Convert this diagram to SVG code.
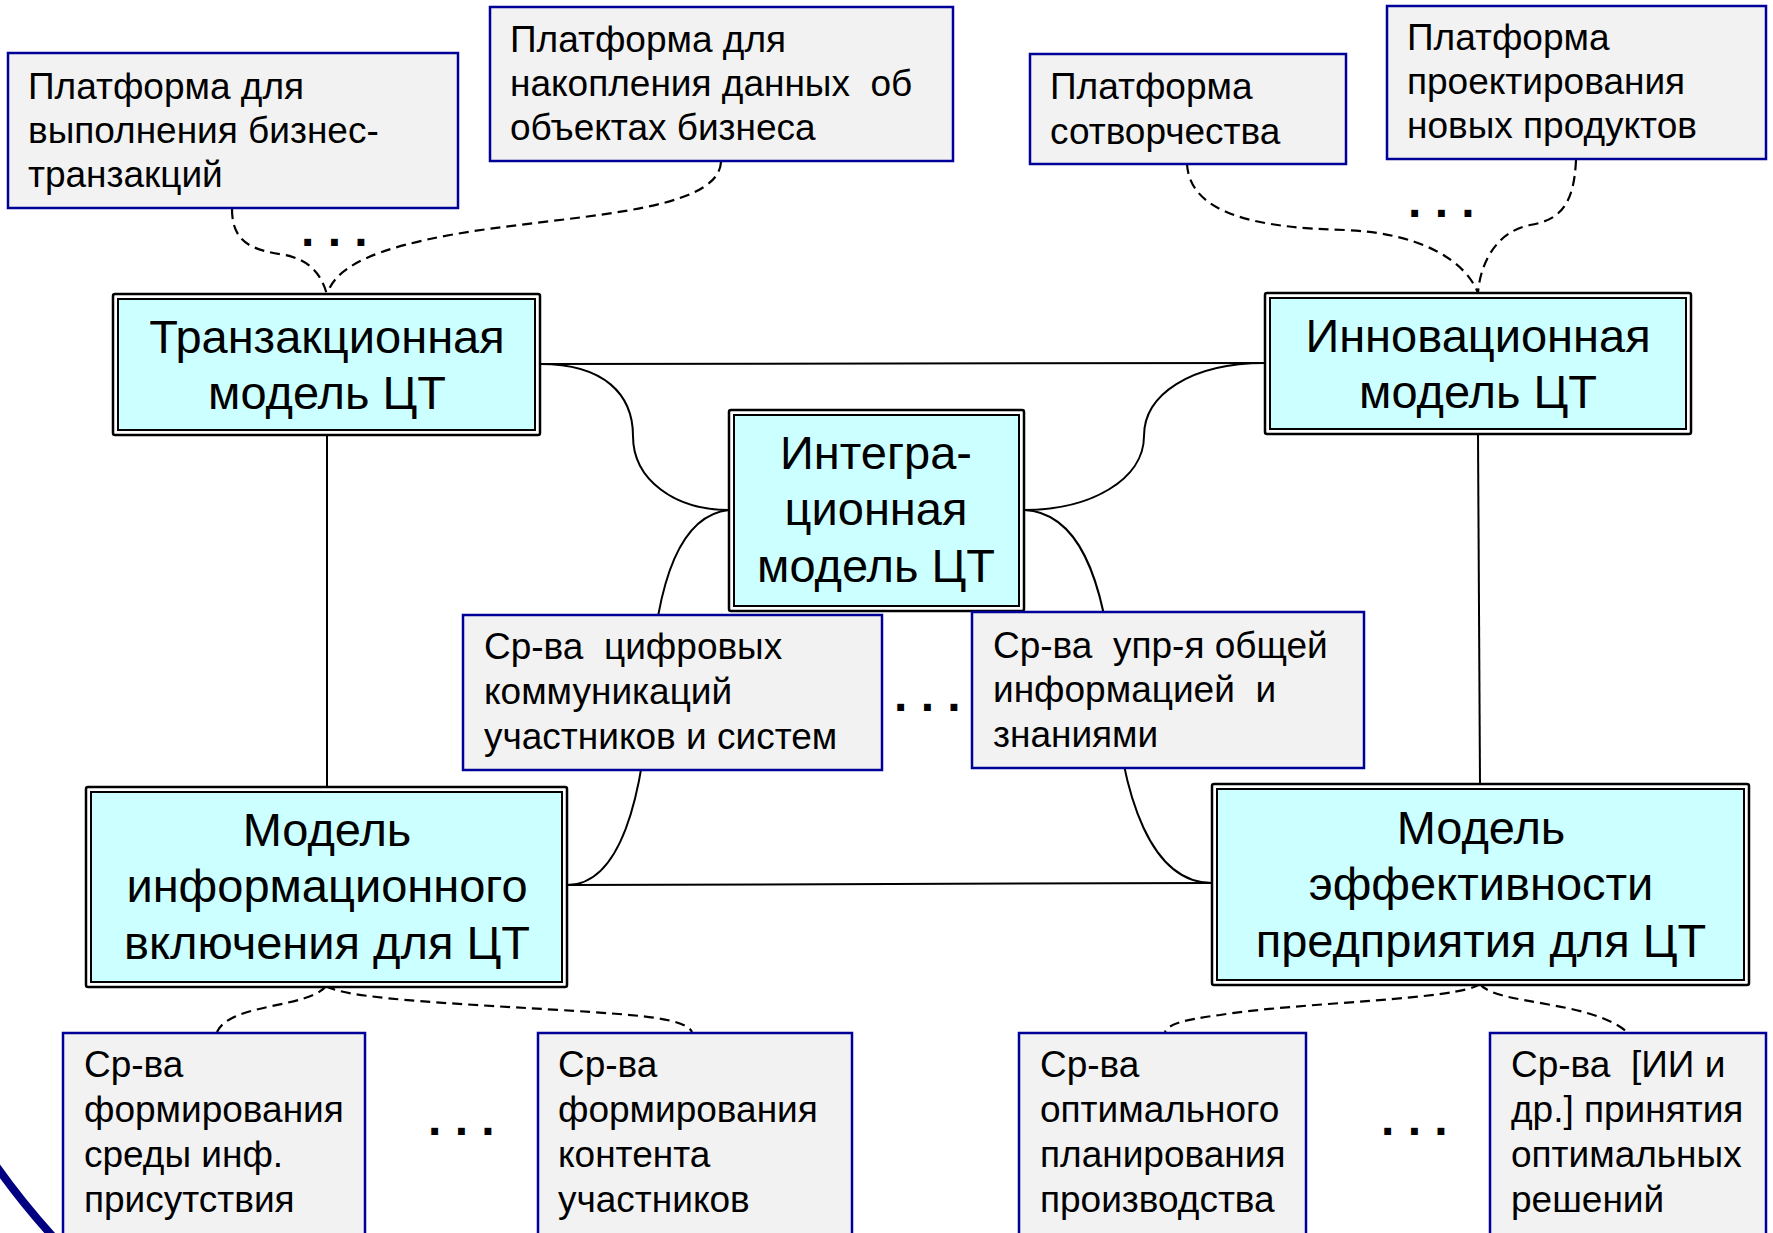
<svg xmlns="http://www.w3.org/2000/svg" width="1773" height="1233" viewBox="0 0 1773 1233">
<style>
text{white-space:pre}
.g rect{fill:#F2F2F2;stroke:#000099;stroke-width:2.5}
.g text{font-family:"Liberation Sans",Arial,sans-serif;font-size:37px;fill:#000}
.m .o{fill:#fff;stroke:#000;stroke-width:2.5}
.m .i{fill:#CCFFFF;stroke:#000;stroke-width:2}
.m text{font-family:"Liberation Sans",Arial,sans-serif;font-size:47px;fill:#000;text-anchor:middle}
.c path{fill:none;stroke:#000;stroke-width:2}
.c path.d{stroke-width:2.2;stroke-dasharray:10 6}
.dots{font-family:"Liberation Sans",Arial,sans-serif;font-size:48px;font-weight:bold;fill:#000}
</style>
<rect width="1773" height="1233" fill="#fff"/>
<path d="M-6,1163 Q22,1203 56,1240" fill="none" stroke="#000080" stroke-width="8"/>
<g id="connectors" class="c">
<path d="M540,364 L1265,363"/>
<path d="M540,364 C605,364 633,395 633,436 C633,480 675,510 729,510"/>
<path d="M1265,363 C1190,363 1144,395 1144,436 C1144,480 1090,510 1024,510"/>
<path d="M729,510 C680,515 656,580 650,690 C643,800 620,885 567,885"/>
<path d="M1024,510 C1075,512 1105,570 1114,690 C1122,800 1152,883 1212,883"/>
<path d="M567,885 L1212,883"/>
<path d="M327,435 L327,787"/>
<path d="M1478,434 L1480,784"/>
<path class="d" d="M232,209 C232,245 255,250 285,255 C310,260 322,275 327,295"/>
<path class="d" d="M721,162 C718,215 560,215 450,235 C380,248 335,265 327,295"/>
<path class="d" d="M1187,164 C1190,215 1260,228 1345,230 C1420,233 1465,260 1478,293"/>
<path class="d" d="M1576,160 C1574,205 1560,220 1530,225 C1495,232 1480,265 1478,293"/>
<path class="d" d="M326,986 C310,1008 230,1003 217,1032"/>
<path class="d" d="M326,986 C345,998 440,1003 560,1010 C640,1015 685,1018 692,1032"/>
<path class="d" d="M1480,984 C1460,1000 1300,1002 1220,1015 C1180,1020 1168,1025 1165,1032"/>
<path class="d" d="M1480,984 C1495,1005 1590,1000 1627,1032"/>
</g>
<g id="p1" class="g"><rect x="8" y="53" width="450" height="155"/><text x="28" y="99">Платформа для</text><text x="28" y="143">выполнения бизнес-</text><text x="28" y="187">транзакций</text></g>
<g id="p2" class="g"><rect x="490" y="7" width="463" height="154"/><text x="510" y="52">Платформа для</text><text x="510" y="96">накопления данных  об</text><text x="510" y="140">объектах бизнеса</text></g>
<g id="p3" class="g"><rect x="1030" y="54" width="316" height="110"/><text x="1050" y="99">Платформа</text><text x="1050" y="144">сотворчества</text></g>
<g id="p4" class="g"><rect x="1387" y="6" width="379" height="153"/><text x="1407" y="50">Платформа</text><text x="1407" y="94">проектирования</text><text x="1407" y="138">новых продуктов</text></g>
<g id="mTrans" class="m"><rect class="o" x="113" y="294" width="427" height="141" rx="2"/><rect class="i" x="118" y="299" width="417" height="131"/><text x="327" y="353">Транзакционная</text><text x="327" y="409">модель ЦТ</text></g>
<g id="mInnov" class="m"><rect class="o" x="1265" y="293" width="426" height="141" rx="2"/><rect class="i" x="1270" y="298" width="416" height="131"/><text x="1478" y="352">Инновационная</text><text x="1478" y="408">модель ЦТ</text></g>
<g id="mInteg" class="m"><rect class="o" x="729" y="410" width="295" height="201" rx="2"/><rect class="i" x="734" y="415" width="285" height="191"/><text x="876" y="469">Интегра-</text><text x="876" y="525">ционная</text><text x="876" y="582">модель ЦТ</text></g>
<g id="mInfo" class="m"><rect class="o" x="86" y="787" width="481" height="200" rx="2"/><rect class="i" x="91" y="792" width="471" height="190"/><text x="327" y="846">Модель</text><text x="327" y="902">информационного</text><text x="327" y="959">включения для ЦТ</text></g>
<g id="mEff" class="m"><rect class="o" x="1212" y="784" width="537" height="201" rx="2"/><rect class="i" x="1217" y="789" width="527" height="191"/><text x="1481" y="844">Модель</text><text x="1481" y="900">эффективности</text><text x="1481" y="957">предприятия для ЦТ</text></g>
<g id="s1" class="g"><rect x="463" y="615" width="419" height="155"/><text x="484" y="659">Ср-ва  цифровых</text><text x="484" y="704">коммуникаций</text><text x="484" y="749">участников и систем</text></g>
<g id="s2" class="g"><rect x="972" y="612" width="392" height="156"/><text x="993" y="658">Ср-ва  упр-я общей</text><text x="993" y="702">информацией  и</text><text x="993" y="747">знаниями</text></g>
<g id="b1" class="g"><rect x="63" y="1033" width="302" height="220"/><text x="84" y="1077">Ср-ва</text><text x="84" y="1122">формирования</text><text x="84" y="1167">среды инф.</text><text x="84" y="1212">присутствия</text></g>
<g id="b2" class="g"><rect x="538" y="1033" width="314" height="220"/><text x="558" y="1077">Ср-ва</text><text x="558" y="1122">формирования</text><text x="558" y="1167">контента</text><text x="558" y="1212">участников</text></g>
<g id="b3" class="g"><rect x="1019" y="1033" width="287" height="220"/><text x="1040" y="1077">Ср-ва</text><text x="1040" y="1122">оптимального</text><text x="1040" y="1167">планирования</text><text x="1040" y="1212">производства</text></g>
<g id="b4" class="g"><rect x="1490" y="1033" width="276" height="220"/><text x="1511" y="1077">Ср-ва  [ИИ и</text><text x="1511" y="1122">др.] принятия</text><text x="1511" y="1167">оптимальных</text><text x="1511" y="1212">решений</text></g>
<text class="dots" x="301" y="246">. . .</text>
<text class="dots" x="1408" y="217">. . .</text>
<text class="dots" x="894" y="711">. . .</text>
<text class="dots" x="428" y="1135">. . .</text>
<text class="dots" x="1381" y="1135">. . .</text>
</svg>
